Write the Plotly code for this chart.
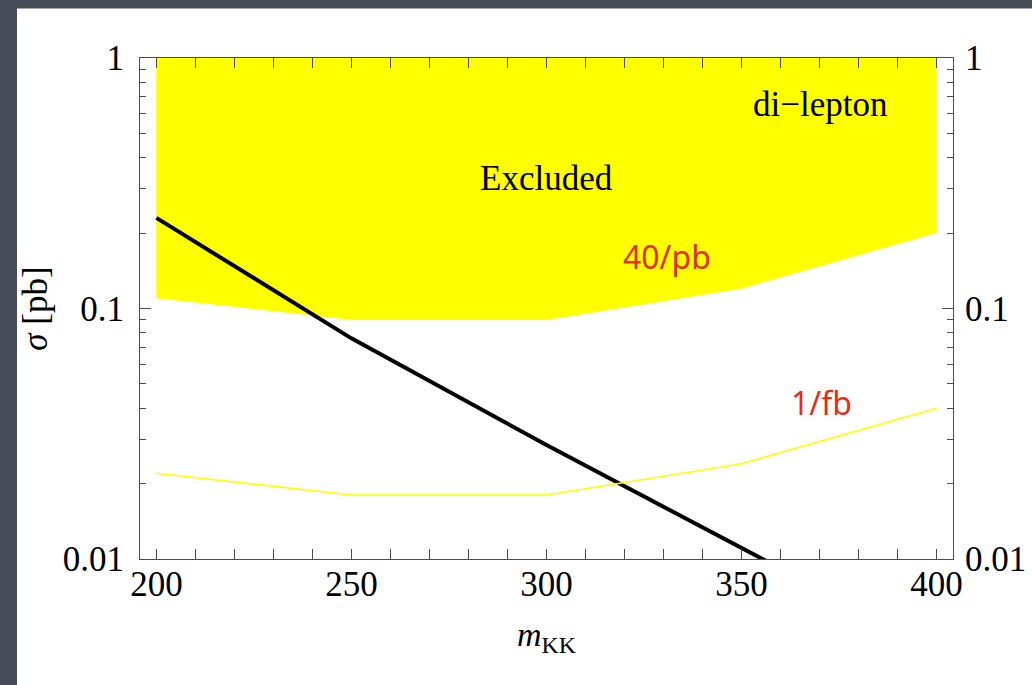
import numpy as np
import plotly.graph_objects as go

# KK mass points (GeV)
mass = [200, 250, 300, 350, 400]
# di-lepton exclusion boundary with 40/pb
excl_40pb = [0.11, 0.09, 0.09, 0.12, 0.20]
# projected reach with 1/fb
reach_1fb = [0.022, 0.018, 0.018, 0.024, 0.040]
# predicted KK cross section (pb)
sigma_kk = [0.23, 0.076, 0.0285, 0.011, 0.0043]
# upper edge of the plotted region (pb)
sigma_top = [1.0, 1.0, 1.0, 1.0, 1.0]

y_major = [0.01, 0.1, 1]
y_major_text = ["0.01", "0.1", "1"]
y_minor = [m * d for d in (0.01, 0.1) for m in range(2, 10)]
x_major = [200, 250, 300, 350, 400]

serif = "Liberation Serif, Times New Roman, serif"
frame = "#4d4d4d"

fig = go.Figure()

# excluded band: between the 40/pb boundary and the top of the frame
fig.add_trace(go.Scatter(
    x=mass + mass[::-1],
    y=excl_40pb + sigma_top[::-1],
    fill="toself", fillcolor="#ffff00",
    mode="lines", line=dict(width=0, color="#ffff00"),
    hoverinfo="skip", showlegend=False,
))

# 1/fb reach curve (drawn on the right-hand axis, which shares the scale)
fig.add_trace(go.Scatter(
    x=mass, y=reach_1fb, yaxis="y2",
    mode="lines", line=dict(color="#ffff00", width=1.6),
    showlegend=False,
))

# model cross section
fig.add_trace(go.Scatter(
    x=mass, y=sigma_kk,
    mode="lines", line=dict(color="black", width=4),
    showlegend=False,
))

tickfont = dict(family=serif, size=35, color="black")

fig.update_layout(
    width=1032, height=685,
    margin=dict(l=140, r=79, t=58, b=126),
    font=dict(family=serif, size=35, color="black"),
    paper_bgcolor="#474c59",
    plot_bgcolor="white",
    xaxis=dict(
        range=[195.8, 404.2], automargin=False,
        tickmode="array",
        tickvals=x_major, ticktext=[str(v) for v in x_major],
        ticks="inside", ticklen=10, tickwidth=1, tickcolor=frame,
        minor=dict(dtick=10, tick0=200, ticks="inside", ticklen=5,
                   tickcolor=frame, tickwidth=1, showgrid=False),
        showline=True, linecolor=frame, linewidth=1, mirror="allticks",
        showgrid=False, zeroline=False,
        tickfont=tickfont, ticklabelstandoff=-6,
        title=dict(text="<i>m</i><sub>KK</sub>",
                   font=dict(family=serif, size=34, color="black"),
                   standoff=19),
    ),
    yaxis=dict(
        type="log", range=[-2, 0], automargin=False,
        tickmode="array",
        tickvals=y_major, ticktext=y_major_text,
        ticks="inside", ticklen=11, tickwidth=1, tickcolor=frame,
        minor=dict(tickvals=y_minor, ticks="inside", ticklen=6,
                   tickcolor=frame, tickwidth=1, showgrid=False),
        showline=True, linecolor=frame, linewidth=1, mirror="allticks",
        showgrid=False, zeroline=False,
        tickfont=tickfont, ticklabelstandoff=8,
        title=dict(text="<i>σ</i> [pb]",
                   font=dict(family=serif, size=35, color="black"),
                   standoff=4),
    ),
    yaxis2=dict(
        type="log", range=[-2, 0], overlaying="y", side="right",
        automargin=False,
        tickmode="array",
        tickvals=y_major, ticktext=y_major_text,
        ticks="", showline=False, showgrid=False, zeroline=False,
        tickfont=tickfont, ticklabelstandoff=11,
    ),
    shapes=[dict(
        type="rect", xref="paper", yref="paper", layer="below",
        x0=-0.1513, x1=1.2, y0=-0.4, y1=1.099,
        fillcolor="white", line=dict(width=0),
    )],
    annotations=[
        dict(x=300, y=np.log10(0.33), text="Excluded", showarrow=False,
             font=dict(family=serif, size=35, color="black")),
        dict(x=370, y=np.log10(0.65), text="di\u2212lepton", showarrow=False,
             font=dict(family=serif, size=35, color="black")),
        dict(x=330.8, y=np.log10(0.162), text="40/pb", showarrow=False,
             font=dict(family="Noto Sans", size=32, color="#e0301a")),
        dict(x=370.6, y=np.log10(0.042), text="1/fb", showarrow=False,
             font=dict(family="Noto Sans", size=32, color="#e0301a")),
    ],
)

fig.write_html("out.html")
